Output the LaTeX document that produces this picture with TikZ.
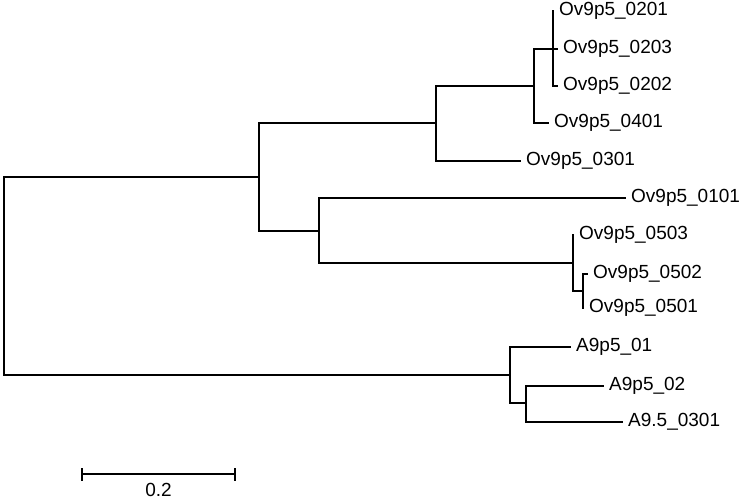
\documentclass[tikz,border=0pt]{standalone}
\usepackage{fontspec}
\setmainfont{Liberation Sans}
\usetikzlibrary{positioning}

\begin{document}
\begin{tikzpicture}[
  x=1pt, y=-1pt,
  font=\fontsize{19}{22}\selectfont,
  br/.style={draw=black, line width=1.7pt, line cap=rect},
  leaf/.style={anchor=west, inner xsep=6pt, inner ysep=0pt},
  tick/.style={draw=black, line width=1.7pt},
]
\useasboundingbox (0,0) rectangle (742,501);

%% internal nodes
\coordinate (root) at (4,276);
\coordinate (ov)   at (259,177);
\coordinate (ovA)  at (436,123);
\coordinate (ovB)  at (534,86);
\coordinate (ovC)  at (553,49);
\coordinate (ovD)  at (319,231);
\coordinate (ovE)  at (573,263);
\coordinate (ovF)  at (583,291);
\coordinate (aa)   at (510,375);
\coordinate (aaB)  at (526,403);

%% leaves
\node[leaf] (l0201) at (553,11)  {Ov9p5\_0201};
\node[leaf] (l0203) at (557,49)  {Ov9p5\_0203};
\node[leaf] (l0202) at (557,86)  {Ov9p5\_0202};
\node[leaf] (l0401) at (548,123) {Ov9p5\_0401};
\node[leaf] (l0301) at (520,161) {Ov9p5\_0301};
\node[leaf] (l0101) at (625,198) {Ov9p5\_0101};
\node[leaf] (l0503) at (573,235) {Ov9p5\_0503};
\node[leaf] (l0502) at (587,274) {Ov9p5\_0502};
\node[leaf] (l0501) at (583,308) {Ov9p5\_0501};
\node[leaf] (a01)   at (570,347) {A9p5\_01};
\node[leaf] (a02)   at (603,386) {A9p5\_02};
\node[leaf] (a0301) at (622,422) {A9.5\_0301};

%% branches
\draw[br] (root) |- (ov);
\draw[br] (root) |- (aa);
\draw[br] (ov) |- (ovA);
\draw[br] (ov) |- (ovD);
\draw[br] (ovA) |- (ovB);
\draw[br] (ovA) |- (l0301.west);
\draw[br] (ovB) |- (ovC);
\draw[br] (ovB) |- (l0401.west);
\draw[br] (ovC) |- (l0201.west);
\draw[br] (ovC) |- (l0203.west);
\draw[br] (ovC) |- (l0202.west);
\draw[br] (ovD) |- (l0101.west);
\draw[br] (ovD) |- (ovE);
\draw[br] (ovE) |- (l0503.west);
\draw[br] (ovE) |- (ovF);
\draw[br] (ovF) |- (l0502.west);
\draw[br] (ovF) |- (l0501.west);
\draw[br] (aa) |- (a01.west);
\draw[br] (aa) |- (aaB);
\draw[br] (aaB) |- (a02.west);
\draw[br] (aaB) |- (a0301.west);

%% scale bar
\coordinate (sbL) at (82,474);
\coordinate (sbR) at (235,474);
\draw[tick] (sbL) -- (sbR);
\draw[tick] ([yshift=-6.5pt]sbL) -- ([yshift=6.5pt]sbL);
\draw[tick] ([yshift=-6.5pt]sbR) -- ([yshift=6.5pt]sbR);
\node[inner sep=0pt] (sblab) at (158.5,490) {0.2};
\end{tikzpicture}
\end{document}
